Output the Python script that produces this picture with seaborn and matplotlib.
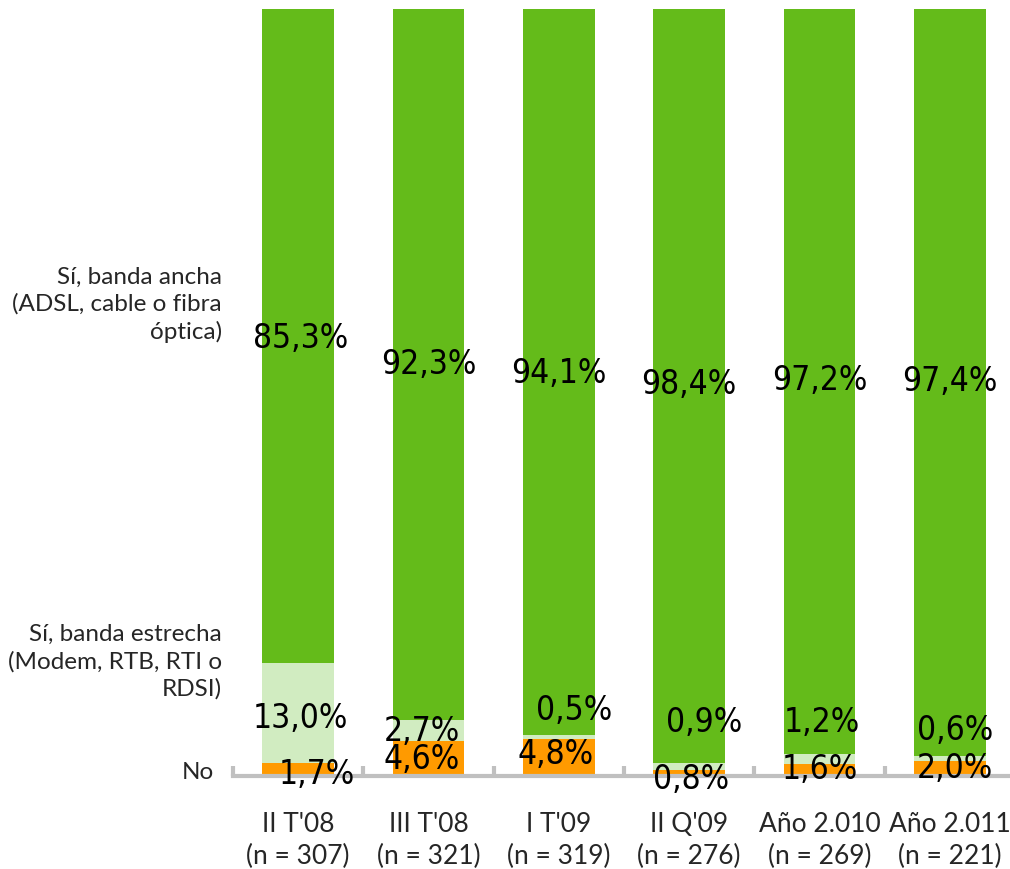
import numpy as np
import pandas as pd
import matplotlib
matplotlib.use("Agg")
import matplotlib.pyplot as plt
import seaborn as sns
from matplotlib.transforms import offset_copy, blended_transform_factory

# ---- data ----
categories = ["II T'08\n(n = 307)", "III T'08\n(n = 321)", "I T'09\n(n = 319)",
              "II Q'09\n(n = 276)", "Año 2.010\n(n = 269)", "Año 2.011\n(n = 221)"]
no_vals = [1.7, 4.6, 4.8, 0.8, 1.6, 2.0]
estrecha_vals = [13.0, 2.7, 0.5, 0.9, 1.2, 0.6]
ancha_vals = [85.3, 92.3, 94.1, 98.4, 97.2, 97.4]
series_names = ["No",
                "Sí, banda estrecha\n(Modem, RTB, RTI o\nRDSI)",
                "Sí, banda ancha\n(ADSL, cable o fibra\nóptica)"]
series_label_y = [0.6, 14.9, 61.2]

# ---- styles ----
colors = ["#FF9A00", "#D1ECC1", "#64BB1A"]
axis_gray = "#C0C0C0"
series_label_dx = [-19, -11, -11]
# label offsets (dx, dy) in pixels per series per bar
offsets = [
    [(19, -4), (-7, 0), (-3, 4), (2, -6), (0, 1), (5, 1)],
    [(2, -5), (-7, 0), (15, 28), (15, 45), (2, 38), (5, 29)],
    [(2, -4), (0, 0), (0, 0), (0, 0), (0, 0), (0, 0)],
]

sns.set_style("white")
plt.rcParams["font.family"] = ["Lato", "DejaVu Sans"]

W, H = 1010, 870
fig = plt.figure(figsize=(W / 100, H / 100), dpi=100)
ax = fig.add_axes([233 / W, 93 / H, 782 / W, 767 / H])

layers = [no_vals, estrecha_vals, ancha_vals]
cum = np.cumsum(np.array(layers), axis=0)
df = pd.DataFrame({"cat": categories})
# draw back to front (cumulative)
for i in [2, 1, 0]:
    df["v"] = cum[i]
    sns.barplot(data=df, x="cat", y="v", color=colors[i], width=0.55,
                saturation=1, ax=ax, linewidth=0, order=categories)

ax.set_xlim(-0.5, 5.5)
ax.set_ylim(0, 99.4)
ax.set_xlabel("")
ax.set_ylabel("")
ax.set_yticks([])
for s in ["top", "left", "right"]:
    ax.spines[s].set_visible(False)
ax.spines["bottom"].set_color(axis_gray)
ax.spines["bottom"].set_linewidth(3)
ax.spines["bottom"].set_zorder(5)
ax.set_xticks(range(len(categories)))
ax.set_xticklabels(categories, fontsize=19, linespacing=1.38)
ax.tick_params(axis="x", which="major", length=0, pad=25)
ax.set_xticks(np.arange(-0.5, len(categories), 1.0), minor=True)
ax.tick_params(axis="x", which="minor", bottom=True, direction="in",
               length=7, width=3, color=axis_gray)

# value labels
bottoms = np.vstack([np.zeros(len(categories)), cum[:-1]])
for i, vals in enumerate(layers):
    for j, v in enumerate(vals):
        dx, dy = offsets[i][j]
        tr = offset_copy(ax.transData, fig=fig, x=dx, y=dy, units="dots")
        yc = bottoms[i][j] + v / 2
        ax.text(j, yc, f"{v:.1f}%".replace(".", ","), transform=tr,
                ha="center", va="center", fontsize=24,
                family="DejaVu Sans", fontstretch="condensed", color="black",
                clip_on=False, zorder=6)

# series labels on left
base = blended_transform_factory(ax.transAxes, ax.transData)
for name, yy, ddx in zip(series_names, series_label_y, series_label_dx):
    btr = offset_copy(base, fig=fig, x=ddx, y=0, units="dots")
    ax.text(0, yy, name, transform=btr, ha="right", va="center",
            fontsize=17.5, linespacing=1.33, multialignment="right")

fig.savefig("out.png", dpi=100)
